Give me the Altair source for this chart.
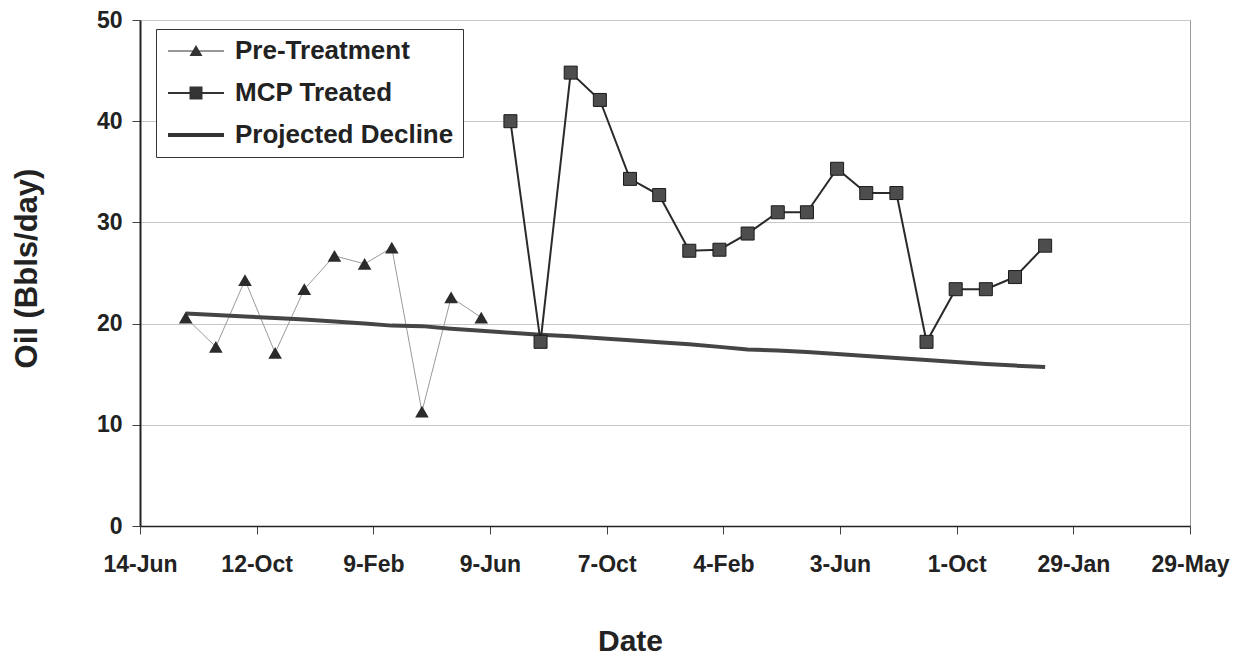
import altair as alt
import pandas as pd

# ---------------- data ----------------
series_names = ["Pre-Treatment", "MCP Treated", "Projected Decline"]

pre_dates = ["1998-07-31", "1998-08-31", "1998-09-30", "1998-10-31", "1998-11-30",
             "1998-12-31", "1999-01-31", "1999-02-28", "1999-03-31", "1999-04-30",
             "1999-05-31"]
pre_oil = [20.6, 17.7, 24.3, 17.1, 23.4, 26.7, 25.9, 27.5, 11.3, 22.6, 20.6]

mcp_dates = ["1999-06-30", "1999-07-31", "1999-08-31", "1999-09-30", "1999-10-31",
             "1999-11-30", "1999-12-31", "2000-01-31", "2000-02-29", "2000-03-31",
             "2000-04-30", "2000-05-31", "2000-06-30", "2000-07-31", "2000-08-31",
             "2000-09-30", "2000-10-31", "2000-11-30", "2000-12-31"]
mcp_oil = [40.0, 18.2, 44.8, 42.1, 34.3, 32.7, 27.2, 27.3, 28.9, 31.0,
           31.0, 35.3, 32.9, 32.9, 18.2, 23.4, 23.4, 24.6, 27.7]

proj_dates = ["1998-07-31", "1998-08-31", "1998-09-30", "1998-10-31", "1998-11-30",
              "1998-12-31", "1999-01-31", "1999-02-28", "1999-03-31", "1999-04-30",
              "1999-05-31", "1999-06-30", "1999-07-31", "1999-08-31", "1999-09-30",
              "1999-10-31", "1999-11-30", "1999-12-31", "2000-01-31", "2000-02-29",
              "2000-03-31", "2000-04-30", "2000-05-31", "2000-06-30", "2000-07-31",
              "2000-08-31", "2000-09-30", "2000-10-31", "2000-11-30", "2000-12-31"]
proj_oil = [21.0, 20.85, 20.7, 20.55, 20.4, 20.2, 20.0, 19.8, 19.75, 19.5,
            19.3, 19.1, 18.9, 18.75, 18.55, 18.35, 18.15, 17.95, 17.7, 17.45,
            17.35, 17.2, 17.0, 16.8, 16.6, 16.4, 16.2, 16.0, 15.85, 15.7]

tick_dates = ["1998-06-14", "1998-10-12", "1999-02-09", "1999-06-09", "1999-10-07",
              "2000-02-04", "2000-06-03", "2000-10-01", "2001-01-29", "2001-05-29"]
y_ticks = [0, 10, 20, 30, 40, 50]


def to_ms(dates):
    return [int(pd.Timestamp(d, tz="UTC").value // 10**6) for d in dates]


tick_ms = to_ms(tick_dates)

pre_df = pd.DataFrame({"t": to_ms(pre_dates), "oil": pre_oil, "series": series_names[0]})
mcp_df = pd.DataFrame({"t": to_ms(mcp_dates), "oil": mcp_oil, "series": series_names[1]})
proj_df = pd.DataFrame({"t": to_ms(proj_dates), "oil": proj_oil, "series": series_names[2]})
all_df = pd.concat([pre_df, mcp_df, proj_df], ignore_index=True)

FONT = "Liberation Sans"

x_enc = alt.X(
    "t:Q",
    scale=alt.Scale(domain=[tick_ms[0], tick_ms[-1]], nice=False, zero=False),
    axis=alt.Axis(
        values=tick_ms,
        labelExpr="utcFormat(datum.value, '%-d-%b')",
        title="Date",
        grid=False,
        domainColor="#222", domainWidth=1.5,
        tickColor="#444", tickSize=8, tickWidth=1,
        labelFont=FONT, labelFontSize=23, labelFontWeight="bold", labelColor="#222",
        labelPadding=19, labelFlush=False, labelOverlap=False,
        titleFont=FONT, titleFontSize=30, titleFontWeight="bold", titleColor="#222",
        titleX=490, titleY=124, titleBaseline="alphabetic", titleAlign="center",
    ),
)
y_enc = alt.Y(
    "oil:Q",
    scale=alt.Scale(domain=[0, 50], nice=False),
    axis=alt.Axis(
        values=y_ticks,
        title="Oil (Bbls/day)",
        grid=True, gridColor="#c8c8c8", gridWidth=1,
        domainColor="#222", domainWidth=2,
        tickColor="#444", tickSize=8, tickWidth=1,
        labelFont=FONT, labelFontSize=23, labelFontWeight="bold", labelColor="#222",
        labelPadding=10,
        titleFont=FONT, titleFontSize=31, titleFontWeight="bold", titleColor="#222",
        titleX=-113, titleY=248, titleAngle=270, titleAlign="center",
        titleBaseline="middle",
    ),
)

pre_line = alt.Chart(pre_df).mark_line(color="#9a9a9a", strokeWidth=1).encode(x=x_enc, y=y_enc)
proj_line = alt.Chart(proj_df).mark_line(color="#454545", strokeWidth=4).encode(x=x_enc, y=y_enc)
mcp_line = alt.Chart(mcp_df).mark_line(color="#2a2a2a", strokeWidth=2).encode(x=x_enc, y=y_enc)
pre_pts = alt.Chart(pre_df).mark_point(
    shape="triangle-up", filled=True, color="#2b2b2b", size=185, opacity=1
).encode(x=x_enc, y=y_enc)
mcp_pts = alt.Chart(mcp_df).mark_square(
    size=169, fill="#4d4d4d", stroke="#1a1a1a", strokeWidth=1, opacity=1
).encode(x=x_enc, y=y_enc)

legend_paths = [
    "M-1,-0.06H4.6V0.06H-1Z M1.15,0.5L1.8,-0.6L2.45,0.5Z",
    "M-1,-0.1H4.6V0.1H-1Z M1.15,-0.65H2.45V0.65H1.15Z",
    "M-1,-0.2H4.6V0.2H-1Z",
]

legend_layer = alt.Chart(all_df).mark_point(
    filled=True, color="#333", opacity=0, size=400
).encode(
    x=x_enc,
    y=y_enc,
    shape=alt.Shape(
        "series:N",
        scale=alt.Scale(domain=series_names, range=legend_paths),
        legend=alt.Legend(
            title=None,
            orient="none", legendX=16, legendY=9,
            padding=9,
            strokeColor="#333", fillColor="white",
            labelFont=FONT, labelFontSize=26, labelFontWeight="bold", labelColor="#222",
            labelOffset=44, labelLimit=400,
            rowPadding=16,
            symbolSize=400, symbolStrokeWidth=0, symbolOpacity=1,
            symbolFillColor="#333", symbolStrokeColor="#333",
        ),
    ),
)

chart = alt.layer(
    pre_line, proj_line, mcp_line, pre_pts, mcp_pts, legend_layer
).properties(
    width=1050,
    height=506,
    autosize=alt.AutoSizeParams(type="none"),
    padding={"left": 132, "top": 12, "right": 40, "bottom": 131},
    background="white",
).configure_view(
    stroke="#999", strokeWidth=1
)

chart.save("out.html", embed_options={"renderer": "svg", "actions": False})
